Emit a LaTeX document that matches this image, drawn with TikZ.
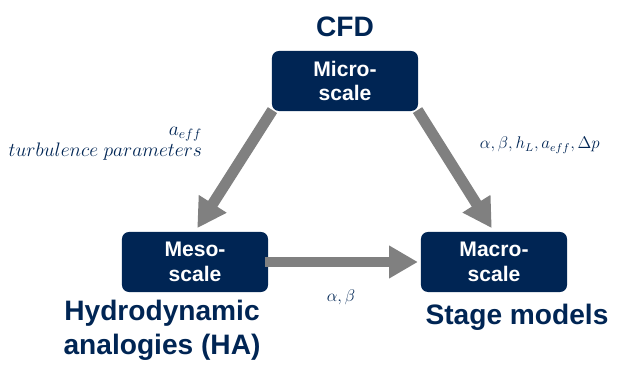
\documentclass[tikz,border=0pt]{standalone}
\usepackage{amsmath,amssymb}
\usepackage{graphicx}
\usepackage{fontspec}
\setmainfont{Liberation Sans}
\usepackage{xcolor}
\usepackage{tikz}
\usetikzlibrary{arrows.meta, positioning, calc}

\definecolor{navy}{RGB}{0,37,84}
\definecolor{arrowgray}{RGB}{128,128,128}

\begin{document}
\begin{tikzpicture}[x=0.025cm,y=-0.025cm,
    scalebox/.style={draw=none,fill=navy,rounded corners=5pt,minimum width=3.65cm,
        minimum height=1.5cm,align=center,text=white,
        font=\fontsize{15}{17.5}\selectfont\bfseries},
    title/.style={text=navy,align=center,font=\fontsize{20}{24}\selectfont\bfseries},
    flow/.style={draw=arrowgray,line width=7.8pt,
        -{Triangle[length=20.5pt,width=22pt]}},
    param/.style={text=navy,font=\fontsize{12}{17}\selectfont}]

\useasboundingbox (0,0) rectangle (617,365);

%---------------- Scale boxes ----------------%
\node[scalebox] (micro) at (345,81) {Micro-\\scale};
\node[scalebox] (meso)  at (195,262) {Meso-\\scale};
\node[scalebox] (macro) at (494,262) {Macro-\\scale};

%---------------- Titles ----------------%
\node[title] (cfd)   at (345,27) {CFD};
\node[title] (ha)    at (162,330) {Hydrodynamic\\analogies (HA)};
\node[title] (stage) at (517,317) {Stage models};

%---------------- Arrows ----------------%
\draw[flow,shorten <=-1pt,shorten >=3pt] (micro.south west) -- (meso.north);
\draw[flow,shorten <=-1pt,shorten >=3pt] (micro.south east) -- (macro.north);
\draw[flow,shorten <=-2pt,shorten >=2pt] (meso.east) -- (macro.west);

%---------------- Parameters ----------------%
\node[param,anchor=east,font=\fontsize{14.4}{15}\selectfont] (toMeso) at (207,142)
    {\scalebox{0.965}{\begin{tabular}{@{}r@{}}$a_{eff}$\\$turbulence\ parameters$\end{tabular}}};
\node[param,anchor=west] (toMacro) at (475,145)
    {$\alpha,\beta,h_L,a_{eff},\Delta p$};
\node[param] (mesoMacro) at (341,297) {$\alpha,\beta$};

\end{tikzpicture}
\end{document}
